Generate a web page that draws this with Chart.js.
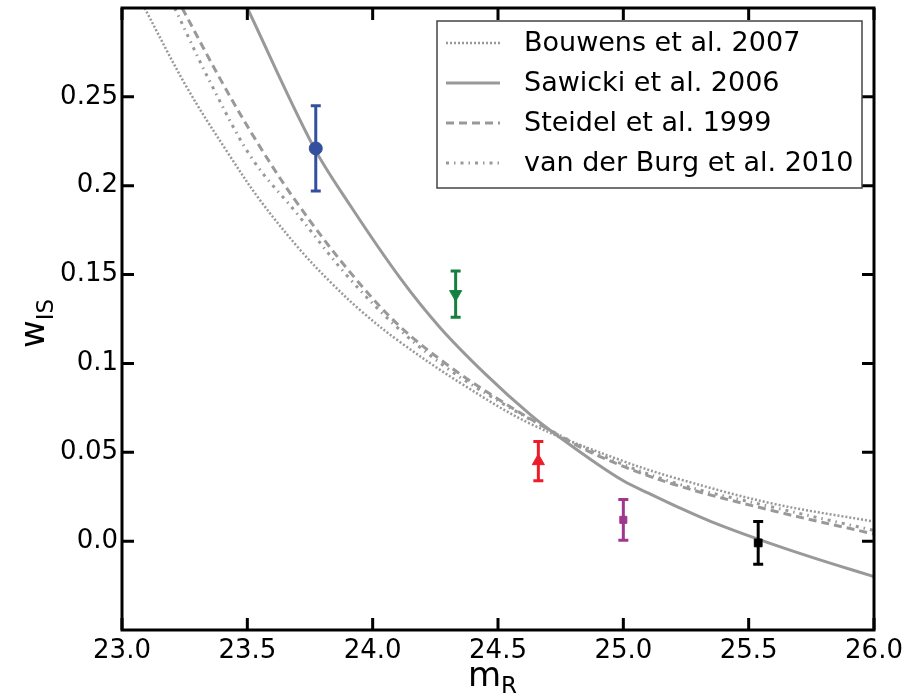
<!DOCTYPE html>
<html>
<head>
<meta charset="utf-8">
<script src="https://cdn.jsdelivr.net/npm/chart.js@4"></script>
<style>
  html, body { margin: 0; padding: 0; background: #fff; }
  #wrap { width: 910px; height: 696px; position: relative; }
</style>
</head>
<body>
<div id="wrap"><canvas id="chart"></canvas></div>
<script>
// ---------- DATA ----------
// observed points (magnitude bins)
const obsMag = [23.773, 24.331, 24.661, 25.0, 25.538];
const obsW = [0.221, 0.139, 0.045, 0.012, -0.001];
const obsErr = [0.024, 0.013, 0.011, 0.0115, 0.012];
const obsColors = ["#33509c", "#15803f", "#ec1c2a", "#a0378f", "#000000"];
const obsShapes = ["circle", "triangle", "triangle", "rect", "rect"];
const obsRotation = [0, 180, 0, 0, 0];

// model curves
const bouwensMag = [23.09, 23.26, 23.42, 23.55, 23.71, 23.83, 23.95, 24.10, 24.35, 24.63, 25.00, 25.22, 25.60, 26.00];
const bouwensW = [0.300, 0.255, 0.219, 0.192, 0.164, 0.146, 0.130, 0.113, 0.089, 0.066, 0.045, 0.035, 0.021, 0.011];

const sawickiMag = [23.50, 23.76, 23.91, 24.11, 24.27, 24.45, 24.63, 24.75, 24.88, 25.00, 25.10, 25.22, 25.35, 25.54, 25.75, 26.00];
const sawickiW = [0.300, 0.223, 0.189, 0.148, 0.120, 0.094, 0.071, 0.058, 0.045, 0.034, 0.027, 0.019, 0.011, 0.001, -0.009, -0.020];

const steidelMag = [23.24, 23.40, 23.55, 23.70, 23.90, 24.10, 24.30, 24.50, 24.70, 24.90, 25.20, 25.60, 26.00];
const steidelW = [0.300, 0.258, 0.222, 0.190, 0.153, 0.122, 0.099, 0.080, 0.063, 0.048, 0.032, 0.017, 0.004];

const vdbMag = [23.21, 23.36, 23.52, 23.70, 23.90, 24.10, 24.30, 24.50, 24.70, 24.90, 25.20, 25.60, 26.00];
const vdbW = [0.300, 0.256, 0.215, 0.184, 0.149, 0.120, 0.097, 0.079, 0.063, 0.049, 0.033, 0.019, 0.006];

const legendLabels = ["Bouwens et al. 2007", "Sawicki et al. 2006", "Steidel et al. 1999", "van der Burg et al. 2010"];

// axis ticks
const yTickVals = [0, 0.05, 0.1, 0.15, 0.2, 0.25];
const yTickLabels = ["0.0", "0.05", "0.1", "0.15", "0.2", "0.25"];
const xTickVals = [23.0, 23.5, 24.0, 24.5, 25.0, 25.5, 26.0];
const xTickLabels = ["23.0", "23.5", "24.0", "24.5", "25.0", "25.5", "26.0"];

// ---------- HELPERS ----------
const FONT = "'DejaVu Sans', 'Liberation Sans', sans-serif";
const CURVE_GREY = "#999999";

function toXY(xs, ys) {
  return xs.map((x, i) => ({ x: x, y: ys[i] }));
}

function curve(label, xs, ys, dash, width) {
  return {
    label: label,
    data: toXY(xs, ys),
    showLine: true,
    borderColor: CURVE_GREY,
    borderWidth: width,
    borderDash: dash,
    pointRadius: 0,
    tension: 0.35,
    fill: false,
  };
}

// ---------- PLUGINS ----------
const errorBars = {
  id: "errorBars",
  afterDatasetsDraw(chart) {
    const ctx = chart.ctx;
    const xs = chart.scales.x, ys = chart.scales.y;
    ctx.save();
    ctx.lineWidth = 3;
    obsMag.forEach((m, i) => {
      const px = xs.getPixelForValue(m);
      const top = ys.getPixelForValue(obsW[i] + obsErr[i]);
      const bot = ys.getPixelForValue(obsW[i] - obsErr[i]);
      ctx.strokeStyle = obsColors[i];
      ctx.beginPath();
      ctx.moveTo(px, top); ctx.lineTo(px, bot);
      ctx.moveTo(px - 5, top); ctx.lineTo(px + 5, top);
      ctx.moveTo(px - 5, bot); ctx.lineTo(px + 5, bot);
      ctx.stroke();
    });
    ctx.restore();
  },
};

const frameAndLabels = {
  id: "frameAndLabels",
  afterDraw(chart) {
    const ctx = chart.ctx;
    const a = chart.chartArea;
    const xs = chart.scales.x, ys = chart.scales.y;
    ctx.save();

    // inward ticks on all four sides
    ctx.strokeStyle = "#000";
    ctx.lineWidth = 3;
    ctx.beginPath();
    xTickVals.forEach(v => {
      const px = xs.getPixelForValue(v);
      ctx.moveTo(px, a.bottom); ctx.lineTo(px, a.bottom - 12);
      ctx.moveTo(px, a.top); ctx.lineTo(px, a.top + 12);
    });
    yTickVals.forEach(v => {
      const py = ys.getPixelForValue(v);
      ctx.moveTo(a.left, py); ctx.lineTo(a.left + 12, py);
      ctx.moveTo(a.right, py); ctx.lineTo(a.right - 12, py);
    });
    ctx.stroke();
    ctx.strokeRect(a.left, a.top, a.right - a.left, a.bottom - a.top);

    // legend box
    const lx = 437, ly = 21, lw = 425, lh = 167;
    ctx.fillStyle = "#fff";
    ctx.fillRect(lx, ly, lw, lh);
    ctx.strokeStyle = "#444";
    ctx.lineWidth = 1.5;
    ctx.strokeRect(lx, ly, lw, lh);
    const curves = chart.data.datasets.slice(1);
    curves.forEach((ds, i) => {
      const rowY = 43 + i * 40;
      ctx.strokeStyle = ds.borderColor;
      ctx.lineWidth = ds.borderWidth;
      ctx.setLineDash(ds.borderDash);
      ctx.beginPath();
      ctx.moveTo(446, rowY); ctx.lineTo(500, rowY);
      ctx.stroke();
      ctx.setLineDash([]);
      ctx.fillStyle = "#000";
      ctx.font = "27px " + FONT;
      ctx.textAlign = "left";
      ctx.textBaseline = "middle";
      ctx.fillText(legendLabels[i], 524, rowY + 1);
    });

    // x axis title m_R
    ctx.fillStyle = "#000";
    ctx.textBaseline = "alphabetic";
    ctx.textAlign = "left";
    ctx.font = "34px " + FONT;
    const mW = ctx.measureText("m").width;
    const mx = (a.left + a.right) / 2 - 30;
    ctx.fillText("m", mx, 686);
    ctx.font = "23px " + FONT;
    ctx.fillText("R", mx + mW, 693);

    // y axis title w_IS
    ctx.translate(44, 348);
    ctx.rotate(-Math.PI / 2);
    ctx.font = "34px " + FONT;
    const wW = ctx.measureText("w").width;
    ctx.fillText("w", 0, 0);
    ctx.font = "23px " + FONT;
    ctx.fillText("IS", wW, 9);

    ctx.restore();
  },
};

// ---------- CHART ----------
const ctx = document.getElementById("chart").getContext("2d");

const chart = new Chart(ctx, {
  type: "scatter",
  data: {
    datasets: [
      {
        label: "data",
        data: toXY(obsMag, obsW),
        pointStyle: obsShapes,
        pointRotation: obsRotation,
        pointRadius: [6.5, 7, 7, 5, 5.5],
        pointBackgroundColor: obsColors,
        pointBorderColor: obsColors,
        pointBorderWidth: 1,
        showLine: false,
      },
      curve(legendLabels[0], bouwensMag, bouwensW, [2, 2], 2.5),
      curve(legendLabels[1], sawickiMag, sawickiW, [], 3),
      curve(legendLabels[2], steidelMag, steidelW, [8, 5], 3),
      curve(legendLabels[3], vdbMag, vdbW, [3, 5, 1.5, 5], 3),
    ],
  },
  options: {
    responsive: true,
    maintainAspectRatio: false,
    animation: false,
    layout: { padding: { top: 8, right: 36, left: 0, bottom: 0 } },
    plugins: {
      legend: { display: false },
      tooltip: { enabled: false },
    },
    scales: {
      x: {
        type: "linear",
        min: 23.0,
        max: 26.0,
        afterBuildTicks: s => { s.ticks = xTickVals.map(v => ({ value: v })); },
        afterFit: s => { s.height = 66; s.paddingLeft = 0; s.paddingRight = 0; },
        grid: { display: false, drawTicks: false },
        border: { display: false },
        ticks: {
          padding: 6,
          color: "#000",
          font: { family: FONT, size: 26 },
          maxRotation: 0,
          callback: (v, i) => xTickLabels[i],
        },
      },
      y: {
        type: "linear",
        min: -0.05,
        max: 0.30,
        afterBuildTicks: s => { s.ticks = yTickVals.map(v => ({ value: v })); },
        afterFit: s => { s.width = 122; s.paddingTop = 0; s.paddingBottom = 0; },
        grid: { display: false, drawTicks: false },
        border: { display: false },
        ticks: {
          padding: 4,
          color: "#000",
          font: { family: FONT, size: 26 },
          callback: (v, i) => yTickLabels[i],
        },
      },
    },
  },
  plugins: [errorBars, frameAndLabels],
});
</script>
</body>
</html>
